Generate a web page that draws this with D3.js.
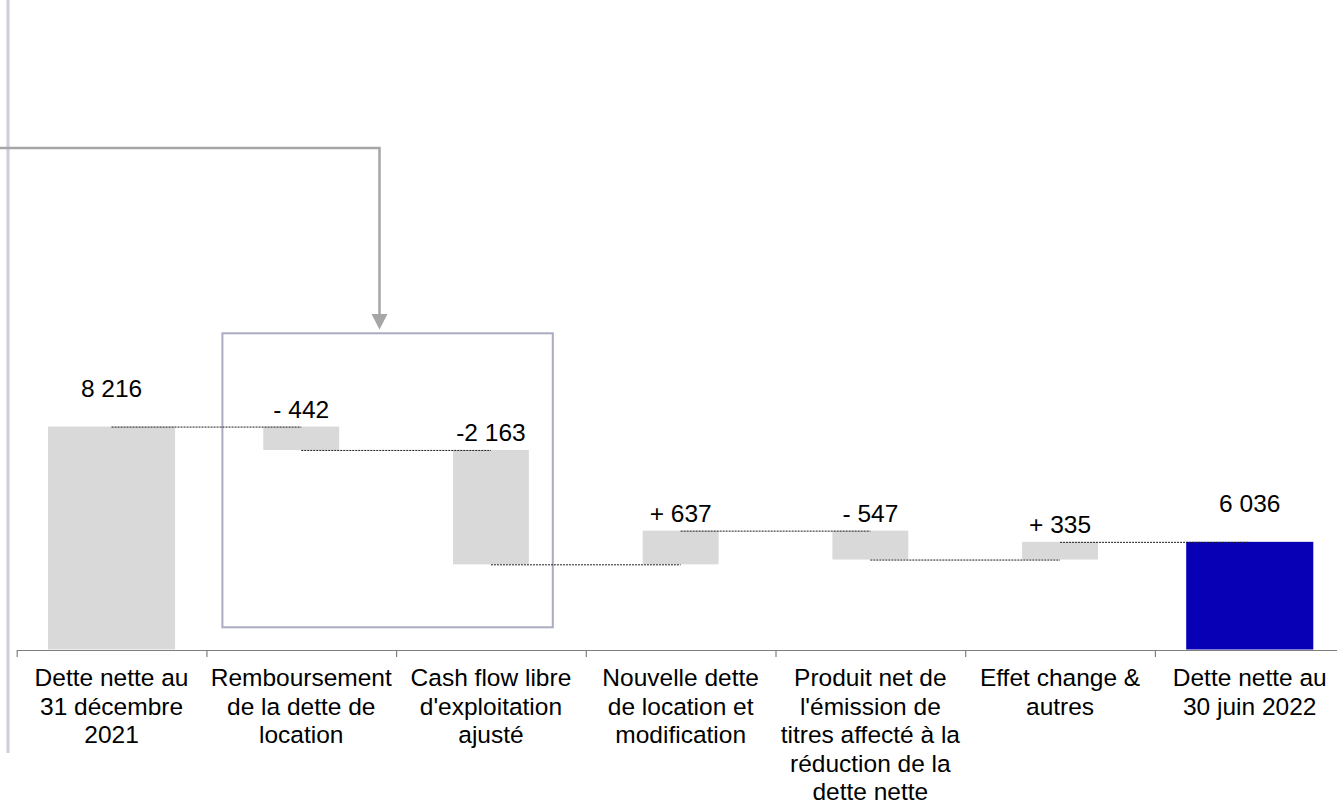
<!DOCTYPE html>
<html lang="fr">
<head>
<meta charset="utf-8">
<title>Évolution de la dette nette</title>
<script src="https://cdn.jsdelivr.net/npm/d3@7"></script>
<style>
  html, body { margin: 0; padding: 0; background: #ffffff; }
  svg { display: block; font-family: "Liberation Sans", Arial, Helvetica, sans-serif; }
</style>
</head>
<body>
<svg id="chart" width="1337" height="805"></svg>
<script>
// Bridge of net debt (in millions), from 31 Dec 2021 to 30 June 2022
const categories = [
  "Dette nette au 31 décembre 2021",
  "Remboursement de la dette de location",
  "Cash flow libre d'exploitation ajusté",
  "Nouvelle dette de location et modification",
  "Produit net de l'émission de titres affecté à la réduction de la dette nette",
  "Effet change & autres",
  "Dette nette au 30 juin 2022"
];
const categoryLines = [
  ["Dette nette au", "31 décembre", "2021"],
  ["Remboursement", "de la dette de", "location"],
  ["Cash flow libre", "d'exploitation", "ajusté"],
  ["Nouvelle dette", "de location et", "modification"],
  ["Produit net de", "l'émission de", "titres affecté à la", "réduction de la", "dette nette"],
  ["Effet change &", "autres"],
  ["Dette nette au", "30 juin 2022"]
];
const values = [8216, -442, -2163, 637, -547, 335, 6036];
const kinds = ["total", "delta", "delta", "delta", "delta", "delta", "total"];
const valueLabels = ["8 216", "- 442", "-2 163", "+ 637", "- 547", "+ 335", "6 036"];
const yDomain = [4000, 16000];

// Running totals: each step floats between its start and end levels
let running = 0;
const steps = categories.map((c, i) => {
  let start, end;
  if (kinds[i] === "total") { start = yDomain[0]; end = values[i]; running = values[i]; }
  else { start = running; end = running + values[i]; running = end; }
  return { cat: c, lines: categoryLines[i], kind: kinds[i], start, end, label: valueLabels[i], i };
});

const svg = d3.select("#chart");
const axisY = 650;
const step0 = 16.7, stepW = 189.7;

const x = d3.scaleBand()
  .domain(categories)
  .range([step0, step0 + stepW * categories.length])
  .paddingInner(0).paddingOuter(0);
const y = d3.scaleLinear().domain(yDomain).range([649.5, 15]);

const totalW = x.bandwidth() * 0.67;
const deltaW = x.bandwidth() * 0.40;
const cx = d => x(d.cat) + x.bandwidth() / 2;
const barW = d => d.kind === "total" ? totalW : deltaW;

// Left rule and highlight annotation (arrow pointing into the framed pair of steps)
svg.append("line")
  .attr("x1", 8).attr("x2", 8).attr("y1", 0).attr("y2", 753)
  .attr("stroke", "#cdd0dc").attr("stroke-width", 3);

const boxL = x(categories[1]) + 16, boxR = x(categories[2]) + x.bandwidth() - 33;
svg.append("rect")
  .attr("x", boxL).attr("y", 333.3)
  .attr("width", boxR - boxL).attr("height", 627.3 - 333.3)
  .attr("fill", "none").attr("stroke", "#aaacbf").attr("stroke-width", 2);

const arrowX = 379.5;
svg.append("path")
  .attr("d", `M0,148 H${arrowX} V316`)
  .attr("fill", "none").attr("stroke", "#a6a6a6").attr("stroke-width", 2.5);
svg.append("path")
  .attr("d", `M${arrowX - 8},314 L${arrowX + 8},314 L${arrowX},329.5 Z`)
  .attr("fill", "#a6a6a6");

// Bars
svg.append("g").selectAll("rect")
  .data(steps)
  .join("rect")
  .attr("x", d => cx(d) - barW(d) / 2)
  .attr("width", barW)
  .attr("y", d => y(Math.max(d.start, d.end)))
  .attr("height", d => Math.abs(y(d.start) - y(d.end)))
  .attr("fill", d => d.i === steps.length - 1 ? "#0700b5" : "#d9d9d9");

// Dotted connectors between consecutive levels
svg.append("g").selectAll("line")
  .data(steps.slice(0, -1))
  .join("line")
  .attr("x1", d => cx(d))
  .attr("x2", d => cx(steps[d.i + 1]))
  .attr("y1", d => y(d.end) + 0.5)
  .attr("y2", d => y(d.end) + 0.5)
  .attr("stroke", "#1e1e1e").attr("stroke-width", 1)
  .attr("stroke-dasharray", "2,1");

// Value labels
svg.append("g").selectAll("text")
  .data(steps)
  .join("text")
  .attr("x", d => cx(d))
  .attr("y", d => y(Math.max(d.start, d.end)) - (d.kind === "total" ? 30 : 9))
  .attr("text-anchor", "middle")
  .attr("font-size", 24.5)
  .attr("fill", "#000")
  .text(d => d.label);

// Category axis: ticks sit on the band boundaries
const bounds = d3.range(categories.length + 1).map(k => step0 + k * stepW);
const edge = d3.scaleLinear().domain([0, categories.length]).range([bounds[0], bounds[bounds.length - 1]]);
const axis = d3.axisBottom(edge)
  .tickValues(d3.range(categories.length + 1))
  .tickSize(7).tickSizeOuter(0)
  .tickFormat("");
const ax = svg.append("g").attr("transform", `translate(0,${axisY})`).call(axis);
ax.select(".domain").attr("stroke", "#7f7f7f").attr("stroke-width", 1.2);
ax.selectAll(".tick line").attr("stroke", "#7f7f7f").attr("stroke-width", 1.2);

// Category labels
const lab = svg.append("g").selectAll("text")
  .data(steps)
  .join("text")
  .attr("text-anchor", "middle")
  .attr("font-size", 24.5)
  .attr("fill", "#000");
lab.selectAll("tspan")
  .data(d => d.lines.map(t => ({ t, x: cx(d) })))
  .join("tspan")
  .attr("x", d => d.x)
  .attr("y", (d, k) => 686 + k * 28.5)
  .text(d => d.t);
</script>
</body>
</html>
